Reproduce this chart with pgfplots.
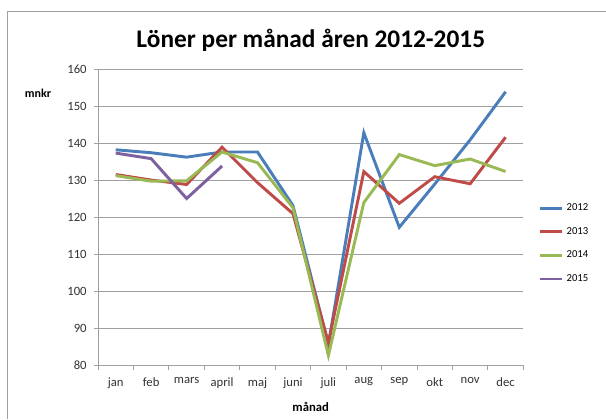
\documentclass[border=0pt]{standalone}
\usepackage{pgfplots}
\pgfplotsset{compat=1.18}
\usepackage{fontspec}
\setmainfont{Carlito}
\definecolor{c12}{RGB}{74,126,187}
\definecolor{c13}{RGB}{190,75,72}
\definecolor{c14}{RGB}{152,185,84}
\definecolor{c15}{RGB}{125,96,160}
\definecolor{gridc}{RGB}{160,160,160}
\begin{document}
\begin{tikzpicture}
\useasboundingbox (0pt,0pt) rectangle (454.5pt,314.25pt);
\draw[gridc,line width=0.6pt] (5.25pt,0pt) -- (5.25pt,306pt) -- (454.5pt,306pt);
\node[font=\fontsize{19}{22}\selectfont\bfseries] at (233pt,284pt) {Löner per månad åren 2012-2015};
\begin{axis}[
  at={(73.5pt,40.5pt)}, anchor=south west,
  scale only axis, width=319pt, height=221.5pt,
  xmin=-0.5, xmax=11.5, ymin=80, ymax=160,
  ytick={80,90,...,160},
  xtick={0,...,11},
  xticklabels={jan,feb,mars,april,maj,juni,juli,aug,sep,okt,nov,dec},
  minor xtick={-0.5,0.5,...,11.5},
  xtick style={draw=none},
  minor x tick style={draw=gridc, line width=0.6pt},
  xminorgrids=false,
  ymajorgrids, grid style={gridc,line width=0.6pt},
  axis x line*=bottom, axis y line*=left,
  axis line style={gridc,line width=0.6pt},
  x axis line style={-}, y axis line style={-},
  tick align=outside, major tick length=3pt, minor tick length=4pt,
  ytick style={draw=gridc,line width=0.6pt},
  tick label style={font=\fontsize{9.5}{10}\selectfont, text=black!80},
  xticklabel style={yshift=-3pt},
  yticklabel style={xshift=-2pt},
  /pgf/number format/assume math mode=true,
  xlabel={\bfseries månad}, xlabel style={font=\fontsize{9.5}{10}\selectfont, yshift=-3pt},
  legend style={at={(1.025,0.565)}, anchor=north west, draw=none, font=\fontsize{8}{9}\selectfont, row sep=7pt, legend cell align=left},
  legend image code/.code={\draw[line width=2.2pt,#1] (0cm,0cm) -- (0.6cm,0cm);},
  clip=false,
]
\addplot[c12, line width=2.2pt] coordinates {(0,138.3) (1,137.5) (2,136.3) (3,137.7) (4,137.7) (5,123.2) (6,85.5) (7,142.9) (8,117.3) (9,129) (10,141) (11,154)};
\addplot[c13, line width=2.2pt] coordinates {(0,131.6) (1,130.1) (2,128.9) (3,139) (4,129.4) (5,121) (6,86) (7,132.4) (8,123.8) (9,131) (10,129.1) (11,141.7)};
\addplot[c14, line width=2.2pt] coordinates {(0,131.3) (1,129.8) (2,129.9) (3,137.7) (4,134.8) (5,122.6) (6,82.6) (7,124) (8,137) (9,134) (10,135.8) (11,132.4)};
\addplot[c15, line width=2.2pt] coordinates {(0,137.4) (1,135.9) (2,125.1) (3,133.9)};
\legend{2012,2013,2014,2015}
\end{axis}
\node[font=\fontsize{9}{10}\selectfont\bfseries] at (28.5pt,244.5pt) {mnkr};
\end{tikzpicture}
\end{document}
